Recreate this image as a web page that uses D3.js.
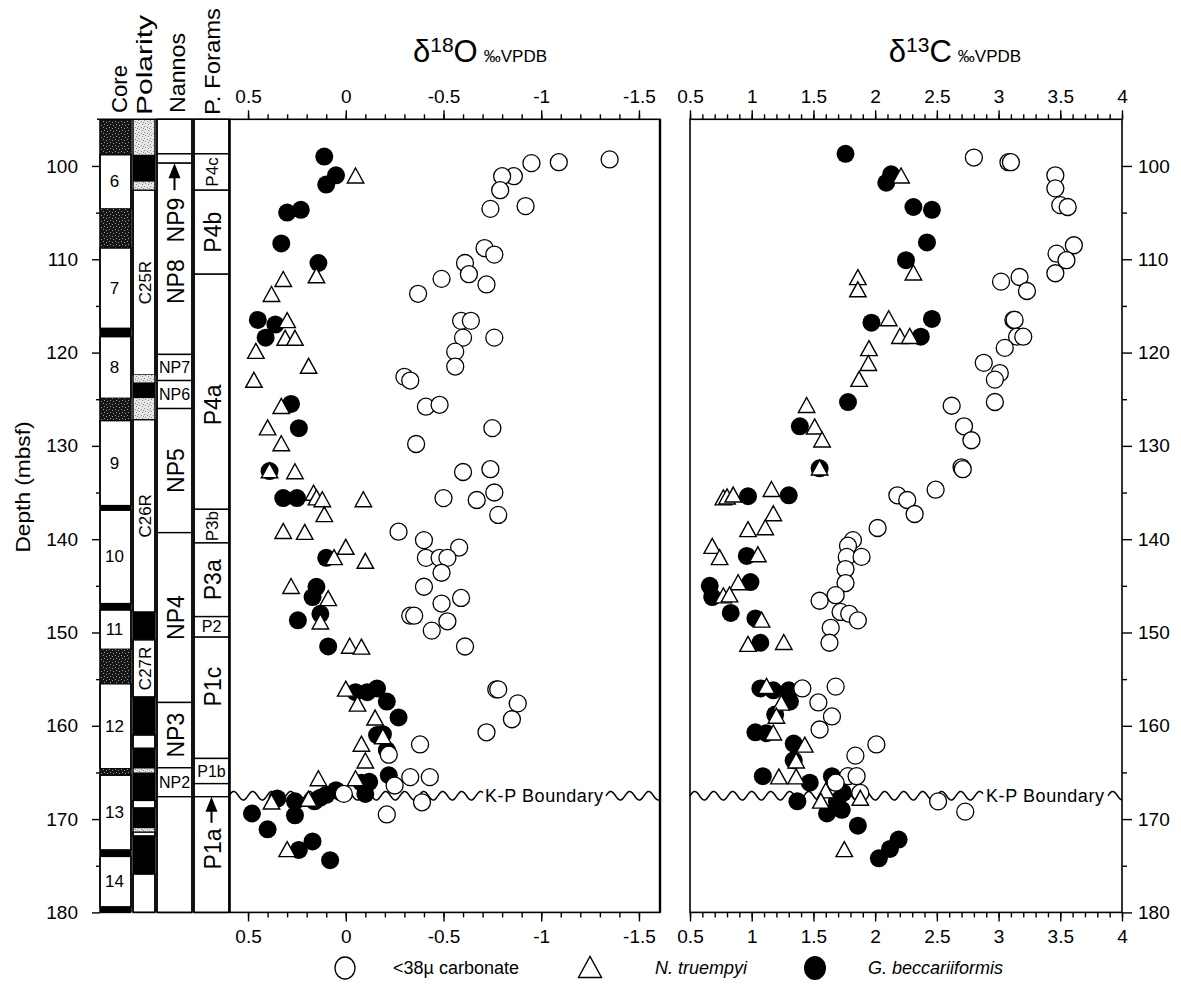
<!DOCTYPE html>
<html><head><meta charset="utf-8">
<script src="https://cdn.jsdelivr.net/npm/d3@7"></script>
<style>
body{margin:0;background:#fff;}
svg{display:block;font-family:"Liberation Sans",Arial,Helvetica,sans-serif;}
</style></head><body>
<svg id="chart" width="1181" height="1000"></svg>
<script>
// ---------------- DATA ----------------
// depth axis ticks
const depthMajor = [100,110,120,130,140,150,160,170,180];
const depthMinor = [105,115,125,135,145,155,165,175];
const d18Major = [0.5,0,-0.5,-1,-1.5];
const d13Major = [0.5,1,1.5,2,2.5,3,3.5,4];
const kpDepth = 167.5;

// Core column: [top, bottom, type, label]
const cores = [
 [95,98.8,'dark',''],[98.8,104.6,'white','6'],[104.6,108.8,'dark',''],
 [108.8,117.4,'white','7'],[117.4,118.3,'black',''],[118.3,124.9,'white','8'],
 [124.9,127.3,'dark',''],[127.3,136.4,'white','9'],[136.4,136.9,'black',''],
 [136.9,146.9,'white','10'],[146.9,147.6,'black',''],[147.6,151.8,'white','11'],
 [151.8,155.5,'dark',''],[155.5,164.6,'white','12'],[164.6,165.3,'dark',''],
 [165.3,173.3,'white','13'],[173.3,174.0,'black',''],[174.0,179.4,'white','14'],
 [179.4,180,'black','']
];
// Polarity column: [top, bottom, type, label]
const polarity = [
 [95,98.8,'grey',''],[98.8,101.7,'black',''],[101.7,102.6,'grey',''],
 [102.6,122.4,'white','C25R'],[122.4,123.2,'grey',''],[123.2,124.9,'black',''],
 [124.9,127.2,'grey',''],[127.2,147.8,'white','C26R'],[147.8,150.8,'black',''],
 [150.8,156.9,'white','C27R'],[156.9,161.0,'black',''],[161.0,162.4,'white',''],
 [162.4,164.6,'black',''],[164.6,165.0,'grey',''],[165.0,168.0,'black',''],
 [168.0,168.8,'white',''],[168.8,171.0,'black',''],[171.0,171.4,'grey',''],
 [171.4,171.8,'white',''],[171.8,175.9,'black',''],[175.9,180,'white','']
];
// Nannofossil zones: [top, bottom, label, style, labelDepth]
const nannos = [
 [95,98.7,'',''],[98.7,99.7,'',''],[99.7,120.2,'NP8','r',112.4],
 [120.2,123.0,'NP7','h'],[123.0,126.0,'NP6','h'],[126.0,139.3,'NP5','r'],
 [139.3,157.5,'NP4','r'],[157.5,164.5,'NP3','r'],[164.5,167.6,'NP2','h'],
 [167.6,180,'','']
];
// Planktonic foram zones
const forams = [
 [95,98.7,'',''],[98.7,102.6,'P4c','s'],[102.6,111.6,'P4b','r'],
 [111.6,136.8,'P4a','r',125.6],[136.8,140.4,'P3b','s'],[140.4,148.3,'P3a','r'],
 [148.3,150.5,'P2','h'],[150.5,163.5,'P1c','r',155.8],[163.5,166.2,'P1b','h'],
 [166.2,167.6,'',''],[167.6,180,'','']
];
// arrow labels: [label, column, arrow tip depth, arrow end depth, label depth]
const arrowLabels = [['NP9','nan',99.7,102.6,105.8],['P1a','for',167.6,170.4,173.2]];

// d18O data [depth, value]
const o18Carb = [
 [99.3,-1.35],[99.6,-1.09],[99.7,-0.95],[101.1,-0.86],[101.1,-0.80],[102.6,-0.79],
 [104.3,-0.92],[104.6,-0.74],[108.8,-0.71],[109.5,-0.76],[110.4,-0.61],[111.6,-0.63],
 [112.1,-0.49],[112.7,-0.72],[113.7,-0.37],[116.6,-0.59],[116.6,-0.64],[118.4,-0.60],
 [118.4,-0.76],[119.9,-0.56],[121.5,-0.56],[122.6,-0.30],[123.0,-0.33],[125.8,-0.41],
 [125.6,-0.48],[128.1,-0.75],[129.8,-0.36],[132.8,-0.60],[132.5,-0.74],[135.0,-0.76],
 [135.6,-0.50],[135.8,-0.67],[137.4,-0.78],[139.2,-0.27],[140.1,-0.40],[140.9,-0.58],
 [142.0,-0.41],[142.0,-0.48],[142.0,-0.52],[143.6,-0.49],[145.1,-0.40],[146.3,-0.59],
 [146.9,-0.49],[148.2,-0.33],[148.2,-0.35],[148.8,-0.52],[149.8,-0.44],[151.5,-0.61],
 [156.1,-0.77],[156.1,-0.78],[157.6,-0.88],[159.3,-0.85],[160.7,-0.72],[162.0,-0.38],
 [163.1,-0.22],[165.5,-0.33],[165.5,-0.43],[166.4,-0.25],[167.3,0.01],[168.2,-0.39],
 [169.5,-0.21]
];
const o18Nt = [
 [101.1,-0.05],[111.8,0.15],[112.2,0.32],[113.8,0.38],[116.6,0.30],[118.5,0.31],
 [118.5,0.26],[119.9,0.46],[121.5,0.19],[123.0,0.47],[125.8,0.33],[128.1,0.40],
 [129.8,0.33],[132.7,0.39],[132.8,0.26],[135.1,0.165],[135.6,0.15],[135.8,0.12],
 [135.8,-0.09],[137.4,0.11],[139.2,0.32],[139.3,0.21],[140.9,0.00],[142.0,0.06],
 [142.4,-0.10],[145.1,0.28],[146.4,0.09],[148.9,0.13],[151.5,-0.02],[151.6,-0.08],
 [156.1,0.00],[157.7,-0.06],[159.2,-0.15],[161.2,-0.19],[162.0,-0.08],[163.8,-0.10],
 [165.7,0.14],[165.7,-0.05],[167.9,0.19],[168.2,0.38],[173.3,0.30]
];
const o18Gb = [
 [99.0,0.11],[101.0,0.05],[102.0,0.10],[104.7,0.23],[105.0,0.30],[108.3,0.33],
 [110.4,0.14],[116.5,0.45],[117.0,0.36],[118.4,0.41],[125.5,0.28],[128.1,0.24],
 [132.7,0.39],[135.6,0.32],[135.6,0.25],[142.0,0.10],[145.1,0.15],[146.2,0.17],
 [148.0,0.13],[148.7,0.245],[151.5,0.09],[156.4,-0.05],[156.4,-0.11],[156.0,-0.16],
 [157.4,-0.21],[159.1,-0.27],[160.9,-0.19],[161.0,-0.16],[162.6,-0.21],[165.3,-0.22],
 [166.0,-0.12],[166.1,-0.08],[167.3,-0.10],[167.4,0.10],[166.9,0.05],[167.7,0.13],
 [168.1,0.16],[167.8,0.35],[168.1,0.26],[169.6,0.26],[169.4,0.48],[171.1,0.40],
 [172.4,0.17],[173.3,0.24],[174.4,0.08]
];
// d13C data [depth, value]
const c13Carb = [
 [99.1,2.80],[99.6,3.08],[99.6,3.10],[101.0,3.46],[102.4,3.46],[104.2,3.50],
 [104.4,3.56],[108.5,3.61],[109.4,3.47],[110.1,3.55],[111.5,3.46],[111.9,3.17],
 [112.4,3.02],[113.4,3.23],[116.5,3.12],[116.5,3.13],[118.3,3.15],[118.3,3.20],
 [119.5,3.05],[121.1,2.88],[122.2,3.01],[122.9,2.97],[125.3,2.97],[125.7,2.62],
 [127.9,2.72],[129.4,2.78],[132.3,2.70],[132.5,2.71],[134.7,2.49],[135.3,2.18],
 [135.8,2.26],[137.3,2.32],[138.8,2.02],[140.1,1.82],[140.7,1.78],[141.9,1.77],
 [141.9,1.89],[143.2,1.76],[144.7,1.76],[146.0,1.68],[146.6,1.55],[147.8,1.72],
 [148.0,1.79],[148.7,1.86],[149.5,1.64],[151.1,1.63],[155.8,1.68],[156.0,1.41],
 [157.5,1.54],[159.0,1.65],[160.4,1.55],[162.0,2.01],[163.2,1.84],[165.4,1.78],
 [165.4,1.85],[166.1,1.68],[167.2,1.88],[168.1,2.51],[169.2,2.73]
];
const c13Nt = [
 [101.1,2.21],[111.5,2.31],[112.0,1.86],[113.3,1.86],[116.4,2.11],[118.3,2.20],
 [118.3,2.28],[119.6,1.95],[121.2,1.945],[122.9,1.87],[125.7,1.445],[128.0,1.51],
 [129.4,1.57],[132.4,1.55],[134.7,1.16],[135.6,0.77],[135.5,0.80],[135.3,0.85],
 [137.3,1.175],[138.8,1.11],[139.0,0.97],[140.8,0.68],[142.0,0.74],[141.7,1.05],
 [144.7,0.89],[146.1,0.77],[146.0,0.82],[148.7,1.08],[151.3,0.97],[151.1,1.26],
 [155.8,1.12],[157.6,1.24],[159.0,1.20],[160.8,1.175],[162.1,1.43],[163.8,1.36],
 [165.5,1.22],[165.5,1.36],[167.0,1.60],[168.1,1.56],[167.8,1.88],[173.3,1.75]
];
const c13Gb = [
 [98.7,1.76],[100.9,2.13],[101.8,2.09],[104.4,2.31],[104.7,2.46],[108.2,2.42],
 [110.1,2.25],[116.8,1.97],[116.4,2.46],[118.3,2.37],[125.3,1.78],[127.9,1.39],
 [132.4,1.55],[135.4,0.97],[135.3,1.30],[141.8,0.96],[144.6,0.99],[145.0,0.66],
 [146.2,0.68],[147.9,0.83],[148.5,1.03],[151.1,1.07],[156.0,1.07],[156.2,1.175],
 [156.2,1.30],[157.4,1.31],[158.8,1.19],[160.7,1.03],[160.8,1.12],[161.9,1.34],
 [163.7,1.34],[165.4,1.09],[166.1,1.47],[165.4,1.65],[167.2,1.74],[168.1,1.37],
 [168.1,1.69],[169.0,1.73],[169.4,1.61],[170.7,1.86],[172.2,2.19],[173.2,2.12],
 [174.2,2.03]
];
const legendItems = [['open','<38\u00B5 carbonate',false],['tri','N. truempyi',true],['fill','G. beccariiformis',true]];

// ---------------- DRAWING ----------------
const svg = d3.select('#chart');
const defs = svg.append('defs');
function stipple(id, bg, dot, dots){
  const p = defs.append('pattern').attr('id',id).attr('width',6).attr('height',6).attr('patternUnits','userSpaceOnUse');
  p.append('rect').attr('width',6).attr('height',6).attr('fill',bg);
  dots.forEach(([a,b])=>p.append('rect').attr('x',a).attr('y',b).attr('width',1).attr('height',1).attr('fill',dot));
}
stipple('darkSt','#161616','#9a9a9a',[[1,1],[4,2],[2,4],[5,5]]);
stipple('lightSt','#e6e6e6','#8a8a8a',[[0,0],[3,1],[1,3],[4,4],[5,2]]);
const fillOf = t => t==='white'?'#fff':t==='black'?'#000':t==='dark'?'url(#darkSt)':'url(#lightSt)';

const y = d3.scaleLinear().domain([95,180]).range([119.3,912.4]);
const x18 = d3.scaleLinear().domain([0.6,-1.6]).range([228.5,658.5]);
const x13 = d3.scaleLinear().domain([0.5,4]).range([690,1122]);
const P18 = [230,660], P13 = [690,1122];

const cols = {core:[100,131], pol:[133,155], nan:[157,192], for:[194,229]};
const gL = svg.append('g');

function drawCol(data, c, isZone){
  const [x0,x1] = c;
  data.forEach(d=>{
    const t = isZone ? 'white' : d[2];
    gL.append('rect').attr('x',x0).attr('width',x1-x0)
      .attr('y',y(d[0])).attr('height',y(d[1])-y(d[0]))
      .attr('fill',fillOf(t))
      .attr('stroke', t==='white'?'#000':'none').attr('stroke-width',1.4);
  });
  gL.append('line').attr('x1',x0).attr('x2',x0).attr('y1',y(95)).attr('y2',y(180)).attr('stroke','#000').attr('stroke-width',1.5);
  gL.append('line').attr('x1',x1).attr('x2',x1).attr('y1',y(95)).attr('y2',y(180)).attr('stroke','#000').attr('stroke-width',1.5);
  gL.append('line').attr('x1',x0).attr('x2',x1).attr('y1',y(180)).attr('y2',y(180)).attr('stroke','#000').attr('stroke-width',1.5);
}
drawCol(cores, cols.core, false);
drawCol(polarity, cols.pol, false);
drawCol(nannos, cols.nan, true);
drawCol(forams, cols.for, true);
// top header line
gL.append('line').attr('x1',97).attr('x2',230).attr('y1',y(95)).attr('y2',y(95)).attr('stroke','#000').attr('stroke-width',1.6);

// core labels
cores.filter(d=>d[3]).forEach(d=>{
  gL.append('text').attr('x',(cols.core[0]+cols.core[1])/2-1).attr('y',(y(d[0])+y(d[1]))/2)
    .attr('text-anchor','middle').attr('dominant-baseline','central').attr('font-size',17).text(d[3]);
});
polarity.filter(d=>d[3]).forEach(d=>{
  const cx=(cols.pol[0]+cols.pol[1])/2+1, cy=(y(d[0])+y(d[1]))/2;
  gL.append('text').attr('transform',`translate(${cx},${cy}) rotate(-90)`)
    .attr('text-anchor','middle').attr('dominant-baseline','central').attr('font-size',17).text(d[3]);
});
function zoneLabels(data, c){
  const cx=(c[0]+c[1])/2;
  data.filter(d=>d[2]).forEach(d=>{
    const cy = d[4]!==undefined ? y(d[4]) : (y(d[0])+y(d[1]))/2;
    if(d[3]==='h'){
      gL.append('text').attr('x',cx).attr('y',cy).attr('text-anchor','middle')
        .attr('dominant-baseline','central').attr('font-size',16).text(d[2]);
    } else {
      gL.append('text').attr('transform',`translate(${cx+1},${cy}) rotate(-90)`)
        .attr('text-anchor','middle').attr('dominant-baseline','central')
        .attr('font-size',d[3]==='s'?17:23).text(d[2]);
    }
  });
}
zoneLabels(nannos, cols.nan);
zoneLabels(forams, cols.for);
arrowLabels.forEach(a=>{
  const c = a[1]==='nan'?cols.nan:cols.for;
  const cx=(c[0]+c[1])/2;
  const yt=y(a[2]), ye=y(a[3]);
  gL.append('path').attr('d',`M${cx},${yt}L${cx-6},${yt+15}L${cx+6},${yt+15}Z`).attr('fill','#000');
  gL.append('line').attr('x1',cx).attr('x2',cx).attr('y1',yt+12).attr('y2',ye).attr('stroke','#000').attr('stroke-width',2);
  gL.append('text').attr('transform',`translate(${cx+1},${y(a[4])}) rotate(-90)`)
    .attr('text-anchor','middle').attr('dominant-baseline','central').attr('font-size',23).text(a[0]);
});

// column headers
[['Core',127,113,48],['Polarity',152,115,100],['Nannos',185,113,80],['P. Forams',220,115,107]].forEach(h=>{
  svg.append('text').attr('transform',`translate(${h[1]},${h[2]}) rotate(-90)`)
    .attr('font-size',22).attr('textLength',h[3]).attr('lengthAdjust','spacingAndGlyphs').text(h[0]);
});
// depth label
svg.append('text').attr('transform',`translate(30,487) rotate(-90)`).attr('text-anchor','middle')
  .attr('font-size',21).attr('textLength',131).attr('lengthAdjust','spacingAndGlyphs').text('Depth (mbsf)');

// axes
function styleAxis(g){
  g.select('.domain').remove();
  g.selectAll('line').attr('stroke','#000').attr('stroke-width',1.4);
  g.selectAll('text').attr('font-size',19).attr('fill','#000').attr('font-family','"Liberation Sans",Arial,sans-serif');
}
const fmt = d=>String(d);
svg.append('g').attr('transform','translate(100,0)')
  .call(d3.axisLeft(y).tickValues(depthMajor).tickSize(8).tickPadding(14).tickFormat(fmt)).call(styleAxis);
svg.append('g').attr('transform','translate(100,0)')
  .call(d3.axisLeft(y).tickValues(depthMinor).tickSize(4).tickFormat('')).call(styleAxis);
svg.append('g').attr('transform',`translate(${P13[1]},0)`)
  .call(d3.axisRight(y).tickValues(depthMajor).tickSize(10).tickPadding(6).tickFormat(fmt)).call(styleAxis);
svg.append('g').attr('transform',`translate(${P13[1]},0)`)
  .call(d3.axisRight(y).tickValues(depthMinor).tickSize(5).tickFormat('')).call(styleAxis);

const minor18 = d3.range(5,-16,-1).map(v=>v/10);
const minor13 = d3.range(5,41).map(v=>v/10);
[[x18,d18Major,minor18],[x13,d13Major,minor13]].forEach(([sc,maj,mn])=>{
  svg.append('g').attr('transform',`translate(0,${y(95)})`)
    .call(d3.axisTop(sc).tickValues(mn).tickSize(5).tickFormat('')).call(styleAxis);
  svg.append('g').attr('transform',`translate(0,${y(95)})`)
    .call(d3.axisTop(sc).tickValues(maj).tickSize(9).tickPadding(7).tickFormat(fmt)).call(styleAxis);
  svg.append('g').attr('transform',`translate(0,${y(180)})`)
    .call(d3.axisBottom(sc).tickValues(mn).tickSize(5).tickFormat('')).call(styleAxis);
  svg.append('g').attr('transform',`translate(0,${y(180)})`)
    .call(d3.axisBottom(sc).tickValues(maj).tickSize(9).tickPadding(8).tickFormat(fmt)).call(styleAxis);
});

// frames
[P18,P13].forEach(p=>{
  svg.append('rect').attr('x',p[0]).attr('y',y(95)).attr('width',p[1]-p[0]).attr('height',y(180)-y(95))
    .attr('fill','none').attr('stroke','#000').attr('stroke-width',1.6);
});
svg.append('line').attr('x1',P18[1]).attr('x2',P18[1]).attr('y1',y(95)).attr('y2',y(180)).attr('stroke','#000').attr('stroke-width',2.4);

// titles
[['18','O',480],['13','C',955]].forEach(([sup,el,cx])=>{
  const t = svg.append('text').attr('x',cx).attr('y',62).attr('text-anchor','middle');
  t.append('tspan').attr('font-size',31).text('\u03B4');
  t.append('tspan').attr('font-size',21).attr('dy',-10).text(sup);
  t.append('tspan').attr('font-size',31).attr('dy',10).text(el);
  t.append('tspan').attr('font-size',17).attr('dx',6).text('\u2030VPDB');
});

// K-P boundary wavy lines
function wave(x0,x1,yc){
  const pts=[]; for(let x=x0;x<=x1;x+=1) pts.push([x, yc - 4.3*Math.sin(2*Math.PI*(x-x0)/19)]);
  return d3.line()(pts);
}
const yk = y(kpDepth);
[[P18,[229,483],[606,660],544],[P13,[690,983],[1108,1122],1045]].forEach(([p,s1,s2,tx])=>{
  svg.append('path').attr('d',wave(s1[0],s1[1],yk)).attr('fill','none').attr('stroke','#000').attr('stroke-width',1.5);
  svg.append('path').attr('d',wave(s2[0],s2[1],yk)).attr('fill','none').attr('stroke','#000').attr('stroke-width',1.5);
  svg.append('text').attr('x',tx).attr('y',yk).attr('text-anchor','middle').attr('dominant-baseline','central')
    .attr('font-size',18).attr('textLength',118).text('K-P Boundary');
});

// data symbols
const triPath = s => `M0,${-s*0.55}L${s*0.55},${s*0.45}L${-s*0.55},${s*0.45}Z`;
function plot(xs, carb, nt, gb){
  const g = svg.append('g');
  g.selectAll('.gb').data(gb).join('circle').attr('cx',d=>xs(d[1])).attr('cy',d=>y(d[0])).attr('r',9).attr('fill','#000');
  g.selectAll('.cb').data(carb).join('circle').attr('cx',d=>xs(d[1])).attr('cy',d=>y(d[0])).attr('r',8.5)
    .attr('fill','#fff').attr('stroke','#000').attr('stroke-width',1.3);
  g.selectAll('.nt').data(nt).join('path').attr('d',triPath(15))
    .attr('transform',d=>`translate(${xs(d[1])},${y(d[0])})`)
    .attr('fill','#fff').attr('stroke','#000').attr('stroke-width',1.4);
}
plot(x18, o18Carb, o18Nt, o18Gb);
plot(x13, c13Carb, c13Nt, c13Gb);

// legend
const legX = [[345,393],[590,655],[815,868]];
legendItems.forEach((it,i)=>{
  const [sx,tx] = legX[i], cy=968;
  if(it[0]==='open') svg.append('ellipse').attr('cx',sx).attr('cy',cy).attr('rx',10).attr('ry',11).attr('fill','#fff').attr('stroke','#000').attr('stroke-width',1.3);
  if(it[0]==='fill') svg.append('ellipse').attr('cx',sx).attr('cy',cy).attr('rx',11).attr('ry',12).attr('fill','#000');
  if(it[0]==='tri') svg.append('path').attr('d',triPath(21)).attr('transform',`translate(${sx},${cy})`).attr('fill','#fff').attr('stroke','#000').attr('stroke-width',1.4);
  svg.append('text').attr('x',tx).attr('y',cy).attr('dominant-baseline','central').attr('font-size',18)
    .attr('font-style',it[2]?'italic':'normal').text(it[1]);
});
</script>
</body></html>
